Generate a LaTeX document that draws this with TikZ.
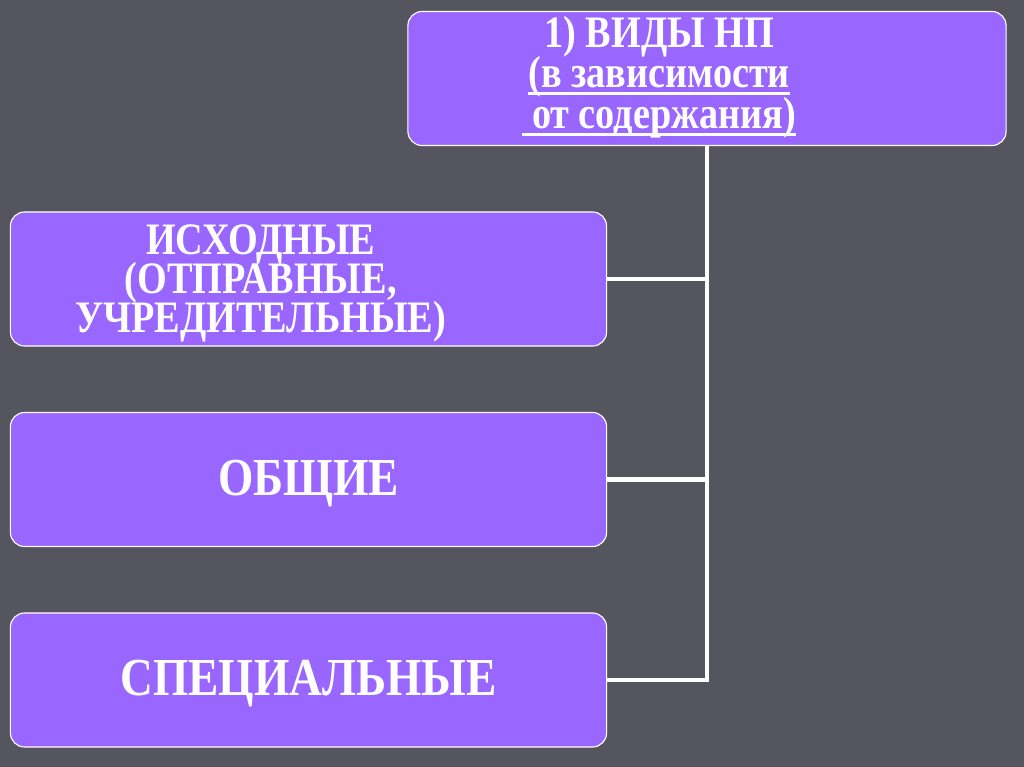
\documentclass[tikz,border=0pt]{standalone}
\usepackage{fontspec}
\setmainfont{Liberation Serif}[FakeStretch=0.85]
\usepackage{tikz}
\definecolor{slide}{HTML}{54555E}
\definecolor{lilac}{HTML}{9966FF}
\newcommand\ulin[1]{\setbox0\hbox{#1}\rlap{\rule[-5pt]{\wd0}{2pt}}\box0}
\newcommand\leftlines[1]{\vbox{\lineskiplimit=-\maxdimen\let\\\cr\halign{\hfil##\hfil\cr#1\crcr}}\kern68pt}

\begin{document}
\begin{tikzpicture}[x=0.025cm,y=-0.025cm]
\tikzstyle{box}=[draw=white,line width=0.8pt,fill=lilac,rounded corners=10pt,text=white,minimum width=14.9cm,minimum height=3.35cm,inner sep=0pt,text depth=0pt]
\tikzstyle{trunk}=[draw=white,line width=3.5pt]
\fill[slide] (0,0) rectangle (1024,767);
\node[box,minimum width=14.95cm,text depth=9pt,font=\bfseries\fontsize{32}{29}\selectfont] (vidy) at (707,78.5) {\leftlines{1) ВИДЫ НП\\\ulin{(в зависимости}\\\ulin{\ от содержания)}}};
\node[box,font=\bfseries\fontsize{32}{27.7}\selectfont] (ishod) at (308.5,279) {\leftlines{ИСХОДНЫЕ\\(ОТПРАВНЫЕ,\\УЧРЕДИТЕЛЬНЫЕ)}};
\node[box,text depth=3pt,font=\bfseries\fontsize{38}{40}\selectfont] (obsh) at (308.5,479.5) {ОБЩИЕ};
\node[box,text depth=3pt,font=\bfseries\fontsize{38}{40}\selectfont] (spec) at (308.5,680) {СПЕЦИАЛЬНЫЕ};
\draw[trunk] (vidy.south) |- (spec.east);
\foreach \b in {ishod,obsh}{
\draw[trunk] (\b.east) -- (\b.east -| vidy.south);
}
\end{tikzpicture}
\end{document}
